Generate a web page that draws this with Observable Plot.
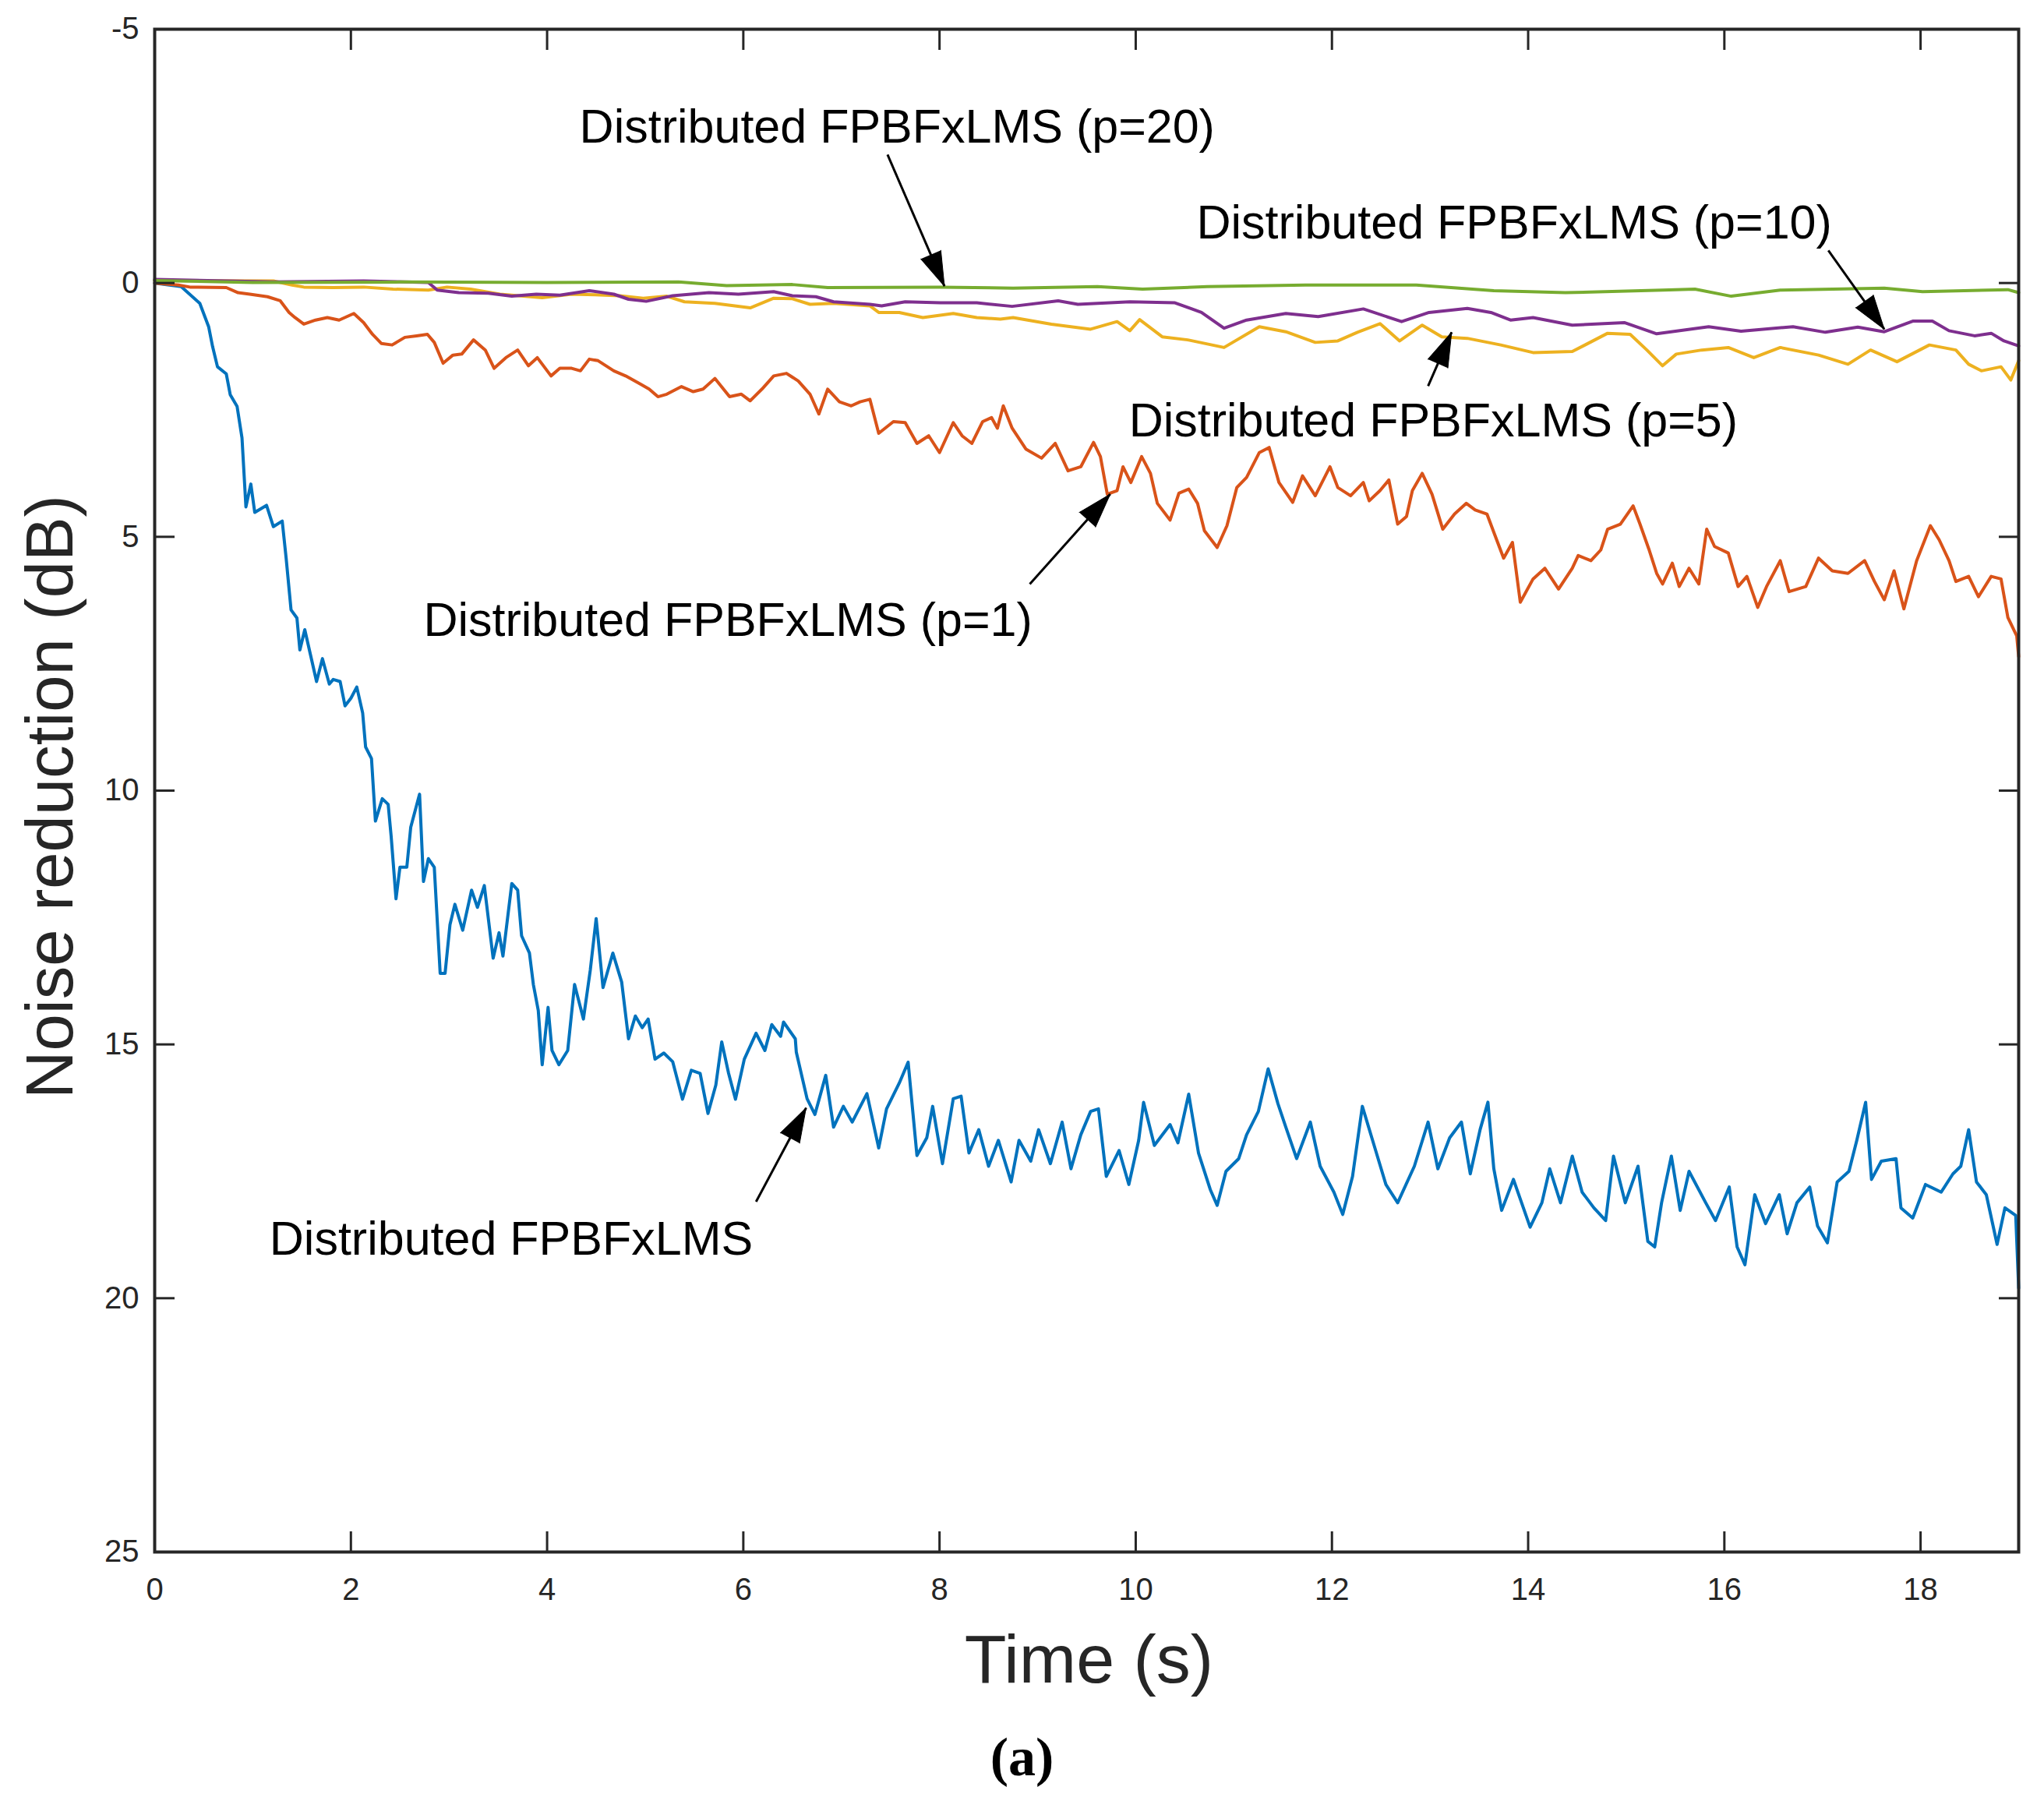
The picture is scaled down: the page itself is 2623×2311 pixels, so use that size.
<!DOCTYPE html>
<html>
<head>
<meta charset="utf-8">
<script src="https://cdn.jsdelivr.net/npm/d3@7"></script>
<script src="https://cdn.jsdelivr.net/npm/@observablehq/plot@0.6"></script>
<style>
  body { margin: 0; background: #fff; }
  #chart svg { display: block; }
</style>
</head>
<body>
<div id="chart"></div>
<script>
// ---- tick labels ----
const xTicks = [0, 2, 4, 6, 8, 10, 12, 14, 16, 18];
const yTicks = [-5, 0, 5, 10, 15, 20, 25];

// ---- series names & colours ----
const seriesNames = ["Distributed FPBFxLMS", "p=1", "p=5", "p=10", "p=20"];
const seriesColors = ["#0072BD", "#D95319", "#EDB120", "#7E2F8E", "#77AC30"];

// ---- series values: [time (s), noise reduction (dB)] ----
const blue = [
  [0,0],[0.27,0.07],[0.46,0.4],[0.55,0.86],[0.59,1.25],[0.64,1.65],[0.73,1.79],[0.77,2.2],[0.84,2.43],[0.89,3.05],
  [0.93,4.41],[0.98,3.96],[1.02,4.52],[1.14,4.38],[1.21,4.8],[1.30,4.69],[1.34,5.42],[1.39,6.44],[1.45,6.6],[1.48,7.23],
  [1.53,6.83],[1.59,7.34],[1.65,7.85],[1.71,7.4],[1.78,7.9],[1.82,7.81],[1.89,7.85],[1.94,8.33],[2.0,8.18],[2.06,7.96],
  [2.12,8.47],[2.15,9.14],[2.21,9.37],[2.25,10.6],[2.32,10.16],[2.38,10.27],[2.41,10.89],[2.46,12.13],[2.50,11.51],[2.57,11.51],
  [2.61,10.72],[2.70,10.07],[2.74,11.79],[2.79,11.34],[2.85,11.51],[2.91,13.6],[2.96,13.6],[3.01,12.64],[3.06,12.24],[3.14,12.75],
  [3.23,11.96],[3.29,12.3],[3.36,11.87],[3.45,13.3],[3.51,12.8],[3.55,13.26],[3.64,11.83],[3.70,11.96],[3.74,12.86],[3.82,13.2],
  [3.86,13.82],[3.91,14.33],[3.95,15.4],[4.01,14.27],[4.05,15.12],[4.12,15.4],[4.21,15.12],[4.28,13.82],[4.37,14.5],[4.44,13.54],
  [4.50,12.52],[4.57,13.88],[4.67,13.2],[4.76,13.77],[4.83,14.89],[4.90,14.44],[4.97,14.67],[5.03,14.5],[5.10,15.29],[5.19,15.17],
  [5.28,15.34],[5.38,16.08],[5.47,15.51],[5.56,15.57],[5.64,16.36],[5.72,15.8],[5.78,14.95],[5.85,15.57],[5.92,16.08],[6.01,15.29],
  [6.13,14.78],[6.22,15.12],[6.29,14.61],[6.38,14.84],[6.41,14.56],[6.53,14.89],[6.54,15.15],[6.65,16.07],[6.73,16.38],[6.84,15.61],
  [6.92,16.63],[7.02,16.22],[7.11,16.53],[7.26,15.97],[7.38,17.04],[7.46,16.27],[7.59,15.76],[7.68,15.35],[7.77,17.19],[7.87,16.84],
  [7.93,16.22],[8.03,17.35],[8.14,16.07],[8.22,16.02],[8.30,17.14],[8.40,16.68],[8.50,17.4],[8.60,16.89],[8.73,17.71],[8.81,16.89],
  [8.93,17.3],[9.01,16.68],[9.13,17.35],[9.25,16.53],[9.34,17.45],[9.44,16.78],[9.54,16.32],[9.62,16.27],[9.70,17.6],[9.83,17.09],
  [9.93,17.76],[10.03,16.89],[10.08,16.14],[10.19,16.99],[10.35,16.58],[10.43,16.94],[10.54,15.98],[10.64,17.14],[10.76,17.86],[10.83,18.17],
  [10.92,17.5],[11.05,17.25],[11.13,16.78],[11.25,16.32],[11.35,15.48],[11.45,16.17],[11.53,16.63],[11.64,17.25],[11.78,16.53],[11.88,17.4],
  [12.02,17.91],[12.11,18.35],[12.21,17.6],[12.31,16.22],[12.43,16.99],[12.55,17.76],[12.67,18.12],[12.84,17.4],[12.98,16.53],[13.08,17.45],
  [13.20,16.84],[13.32,16.53],[13.41,17.55],[13.51,16.68],[13.59,16.14],[13.65,17.45],[13.73,18.27],[13.85,17.66],[14.02,18.6],[14.14,18.12],
  [14.22,17.45],[14.33,18.12],[14.45,17.2],[14.55,17.91],[14.67,18.22],[14.79,18.47],[14.87,17.2],[14.99,18.12],[15.12,17.4],[15.22,18.88],
  [15.29,18.99],[15.36,18.12],[15.46,17.2],[15.55,18.27],[15.64,17.5],[15.81,18.12],[15.91,18.47],[16.05,17.81],[16.13,18.99],[16.21,19.34],
  [16.31,17.96],[16.42,18.53],[16.56,17.96],[16.64,18.73],[16.74,18.12],[16.87,17.81],[16.95,18.58],[17.05,18.91],[17.15,17.71],[17.27,17.5],
  [17.35,16.89],[17.44,16.14],[17.50,17.66],[17.60,17.3],[17.75,17.25],[17.80,18.22],[17.92,18.42],[18.05,17.76],[18.21,17.91],[18.33,17.55],
  [18.41,17.4],[18.49,16.68],[18.57,17.71],[18.67,17.96],[18.78,18.94],[18.86,18.22],[18.97,18.37],[19.0,19.8]
];
const red = [
  [0,0],[0.24,0.04],[0.36,0.08],[0.73,0.09],[0.85,0.19],[0.97,0.22],[1.15,0.27],[1.28,0.35],[1.37,0.58],[1.43,0.68],
  [1.52,0.81],[1.64,0.73],[1.76,0.68],[1.88,0.73],[2.03,0.6],[2.13,0.78],[2.22,1.01],[2.31,1.19],[2.42,1.22],[2.55,1.07],
  [2.67,1.04],[2.78,1.01],[2.85,1.17],[2.94,1.58],[3.04,1.42],[3.13,1.4],[3.25,1.12],[3.37,1.32],[3.46,1.68],[3.58,1.47],
  [3.70,1.32],[3.81,1.63],[3.90,1.47],[4.04,1.83],[4.13,1.68],[4.25,1.68],[4.34,1.73],[4.43,1.5],[4.52,1.53],[4.68,1.73],
  [4.80,1.83],[4.95,1.99],[5.04,2.09],[5.13,2.24],[5.22,2.19],[5.37,2.04],[5.49,2.14],[5.59,2.09],[5.71,1.88],[5.86,2.24],
  [5.98,2.19],[6.07,2.32],[6.19,2.09],[6.31,1.83],[6.44,1.78],[6.56,1.93],[6.68,2.19],[6.77,2.58],[6.86,2.09],[6.98,2.34],
  [7.10,2.42],[7.19,2.34],[7.29,2.29],[7.38,2.96],[7.53,2.73],[7.65,2.75],[7.77,3.16],[7.89,3.01],[8.00,3.34],[8.14,2.75],
  [8.23,3.01],[8.33,3.16],[8.44,2.73],[8.53,2.65],[8.59,2.86],[8.65,2.42],[8.74,2.86],[8.88,3.27],[9.04,3.45],[9.18,3.16],
  [9.31,3.7],[9.44,3.62],[9.57,3.14],[9.64,3.42],[9.71,4.16],[9.81,4.09],[9.87,3.62],[9.95,3.93],[10.06,3.42],[10.15,3.75],
  [10.22,4.34],[10.35,4.67],[10.44,4.14],[10.54,4.06],[10.63,4.34],[10.70,4.88],[10.83,5.21],[10.93,4.78],[11.03,4.03],[11.13,3.83],
  [11.26,3.34],[11.36,3.24],[11.46,3.93],[11.60,4.32],[11.70,3.8],[11.83,4.19],[11.98,3.62],[12.06,4.03],[12.19,4.19],[12.32,3.93],
  [12.38,4.29],[12.49,4.09],[12.58,3.88],[12.67,4.75],[12.76,4.6],[12.82,4.09],[12.92,3.75],[13.02,4.16],[13.13,4.85],[13.25,4.55],
  [13.37,4.34],[13.46,4.47],[13.58,4.55],[13.65,4.91],[13.75,5.42],[13.84,5.11],[13.92,6.29],[14.05,5.83],[14.17,5.62],[14.31,6.03],
  [14.45,5.62],[14.51,5.37],[14.64,5.47],[14.74,5.26],[14.81,4.85],[14.94,4.75],[15.07,4.39],[15.14,4.75],[15.23,5.24],[15.31,5.72],
  [15.37,5.93],[15.47,5.52],[15.54,5.98],[15.64,5.62],[15.74,5.93],[15.82,4.85],[15.90,5.19],[16.04,5.32],[16.14,5.98],[16.23,5.78],
  [16.34,6.39],[16.43,5.98],[16.57,5.47],[16.66,6.08],[16.83,5.98],[16.96,5.42],[17.10,5.67],[17.26,5.72],[17.43,5.47],[17.53,5.88],
  [17.63,6.24],[17.73,5.67],[17.83,6.42],[17.96,5.47],[18.10,4.78],[18.19,5.06],[18.29,5.47],[18.36,5.88],[18.49,5.78],[18.59,6.18],
  [18.72,5.78],[18.82,5.83],[18.89,6.59],[18.98,6.95],[19.0,7.36]
];
const yellow = [
  [0,-0.05],[1.21,-0.04],[1.40,0.04],[1.52,0.08],[1.82,0.09],[2.13,0.08],[2.43,0.12],[2.79,0.14],[2.98,0.08],[3.22,0.12],
  [3.52,0.22],[3.95,0.29],[4.25,0.22],[4.49,0.23],[4.74,0.25],[4.98,0.3],[5.22,0.26],[5.40,0.37],[5.71,0.4],[6.07,0.49],
  [6.31,0.3],[6.50,0.31],[6.68,0.42],[6.92,0.4],[7.29,0.45],[7.38,0.58],[7.59,0.58],[7.83,0.68],[8.14,0.6],[8.38,0.68],
  [8.62,0.71],[8.75,0.68],[9.14,0.81],[9.54,0.91],[9.81,0.76],[9.94,0.94],[10.04,0.72],[10.27,1.06],[10.53,1.12],[10.90,1.27],
  [11.26,0.86],[11.53,0.96],[11.83,1.17],[12.06,1.14],[12.26,0.97],[12.49,0.8],[12.69,1.14],[12.92,0.83],[13.12,1.06],[13.38,1.09],
  [13.72,1.22],[14.05,1.37],[14.45,1.35],[14.58,1.22],[14.81,0.99],[15.04,1.01],[15.21,1.32],[15.37,1.63],[15.51,1.4],[15.77,1.32],
  [16.04,1.27],[16.30,1.47],[16.57,1.27],[16.96,1.42],[17.26,1.6],[17.49,1.32],[17.76,1.55],[18.09,1.22],[18.36,1.32],[18.49,1.6],
  [18.62,1.73],[18.82,1.65],[18.92,1.91],[19.0,1.53]
];
const purple = [
  [0,-0.07],[1.21,-0.02],[2.13,-0.04],[2.79,-0.01],[2.88,0.14],[3.10,0.19],[3.40,0.2],[3.64,0.26],[3.89,0.22],[4.13,0.24],
  [4.43,0.15],[4.68,0.22],[4.83,0.32],[5.01,0.36],[5.28,0.25],[5.65,0.19],[5.95,0.22],[6.31,0.17],[6.50,0.25],[6.74,0.27],
  [6.92,0.37],[7.29,0.42],[7.41,0.45],[7.65,0.37],[8.01,0.39],[8.38,0.39],[8.74,0.46],[9.21,0.35],[9.41,0.42],[9.94,0.37],
  [10.40,0.39],[10.67,0.58],[10.90,0.89],[11.13,0.73],[11.53,0.6],[11.86,0.66],[12.32,0.51],[12.71,0.76],[12.99,0.58],[13.38,0.5],
  [13.62,0.58],[13.82,0.73],[14.05,0.68],[14.45,0.83],[14.98,0.78],[15.31,1.0],[15.84,0.86],[16.17,0.95],[16.70,0.86],[17.03,0.97],
  [17.36,0.87],[17.63,0.96],[17.92,0.75],[18.12,0.75],[18.29,0.94],[18.55,1.04],[18.72,0.99],[18.85,1.14],[19.0,1.24]
];
const green = [
  [0,-0.05],[1.0,-0.01],[2.5,-0.02],[4.0,-0.01],[5.34,-0.02],[5.83,0.05],[6.50,0.03],[6.86,0.09],[8.0,0.08],[8.75,0.1],
  [9.61,0.07],[10.07,0.12],[10.73,0.07],[11.73,0.04],[12.86,0.04],[13.65,0.15],[14.38,0.19],[15.37,0.14],[15.70,0.12],[16.07,0.26],
  [16.57,0.14],[17.63,0.1],[18.02,0.17],[18.89,0.13],[19.0,0.19]
];

// ---- annotations: label start (tx, ty), arrow tail (x1, y1) -> tip (x2, y2) ----
const annotations = [
  {label: "Distributed FPBFxLMS (p=20)", tx: 4.33, ty: -3.07, x1: 7.47, y1: -2.53, x2: 8.05, y2: 0.06},
  {label: "Distributed FPBFxLMS (p=10)", tx: 10.62, ty: -1.17, x1: 17.06, y1: -0.64, x2: 17.63, y2: 0.91},
  {label: "Distributed FPBFxLMS (p=5)", tx: 9.93, ty: 2.72, x1: 12.98, y1: 2.03, x2: 13.22, y2: 0.97},
  {label: "Distributed FPBFxLMS (p=1)", tx: 2.74, ty: 6.66, x1: 8.92, y1: 5.93, x2: 9.74, y2: 4.16},
  {label: "Distributed FPBFxLMS", tx: 1.17, ty: 18.85, x1: 6.13, y1: 18.1, x2: 6.64, y2: 16.25}
];

// ---- layout ----
const W = 2623, H = 2311;
const mL = 198, mR = 33, mT = 37, mB = 320;
const axisColor = "#262626";

const allSeries = [blue, red, yellow, purple, green];
const rows = allSeries.map((s, i) => s.map(([t, v]) => ({series: seriesNames[i], t, v})));

// arrowhead orientation computed through Plot scales
const xs = Plot.scale({x: {domain: [0, 19], range: [mL, W - mR]}});
const ys = Plot.scale({y: {domain: [-5, 25], range: [mT, H - mB]}});
const heads = annotations.map(a => {
  const dx = xs.apply(a.x2) - xs.apply(a.x1);
  const dy = ys.apply(a.y2) - ys.apply(a.y1);
  return {...a, angle: Math.atan2(dx, -dy) * 180 / Math.PI};
});

const chart = Plot.plot({
  width: W,
  height: H,
  marginLeft: mL,
  marginRight: mR,
  marginTop: mT,
  marginBottom: mB,
  style: {fontFamily: "'Liberation Sans', Arial, Helvetica, sans-serif", background: "#fff"},
  x: {domain: [0, 19]},
  y: {domain: [-5, 25], reverse: true},
  color: {domain: seriesNames, range: seriesColors},
  marks: [
    ...rows.map((r, i) => Plot.line(r, {x: "t", y: "v", stroke: seriesColors[i], strokeWidth: 4, strokeLinejoin: "round"})),
    // ticks (inward) on all four sides
    Plot.axisX({anchor: "bottom", ticks: xTicks, tickSize: -26, tickFormat: () => "", label: null, color: axisColor, strokeWidth: 3}),
    Plot.axisX({anchor: "top", ticks: xTicks, tickSize: -26, tickFormat: () => "", label: null, color: axisColor, strokeWidth: 3}),
    Plot.axisY({anchor: "left", ticks: yTicks, tickSize: -26, tickFormat: () => "", label: null, color: axisColor, strokeWidth: 3}),
    Plot.axisY({anchor: "right", ticks: yTicks, tickSize: -26, tickFormat: () => "", label: null, color: axisColor, strokeWidth: 3}),
    // tick labels
    Plot.axisX({anchor: "bottom", ticks: xTicks, tickSize: 0, tickPadding: 33, tickFormat: d => String(d), label: null, color: axisColor, fontSize: 40}),
    Plot.axisY({anchor: "left", ticks: yTicks, tickSize: 0, tickPadding: 20, tickFormat: d => String(d), label: null, color: axisColor, fontSize: 40}),
    Plot.frame({stroke: axisColor, strokeWidth: 4}),
    // axis titles & caption
    Plot.text(["Noise reduction (dB)"], {frameAnchor: "left", rotate: -90, dx: -106, dy: 8, lineAnchor: "bottom", textAnchor: "middle", fontSize: 85, fill: axisColor}),
    Plot.text(["Time (s)"], {frameAnchor: "bottom", dx: 3, dy: 167, lineAnchor: "bottom", textAnchor: "middle", fontSize: 88, fill: axisColor}),
    Plot.text(["(a)"], {frameAnchor: "bottom", dx: -83, dy: 286, lineAnchor: "bottom", textAnchor: "middle", fontSize: 70, fontWeight: "bold", fontFamily: "'Liberation Serif', 'Times New Roman', serif", fill: "#000"}),
    // annotations
    Plot.link(annotations, {x1: "x1", y1: "y1", x2: "x2", y2: "y2", stroke: "#000", strokeWidth: 3}),
    Plot.vector(heads, {x: "x2", y: "y2", rotate: "angle", length: 44, r: 14, anchor: "end", shape: "spike", fill: "#000", stroke: "#000", strokeWidth: 1}),
    Plot.text(annotations, {x: "tx", y: "ty", text: "label", textAnchor: "start", lineAnchor: "middle", fontSize: 61, fill: "#000"})
  ]
});

document.getElementById("chart").append(chart);
</script>
</body>
</html>
